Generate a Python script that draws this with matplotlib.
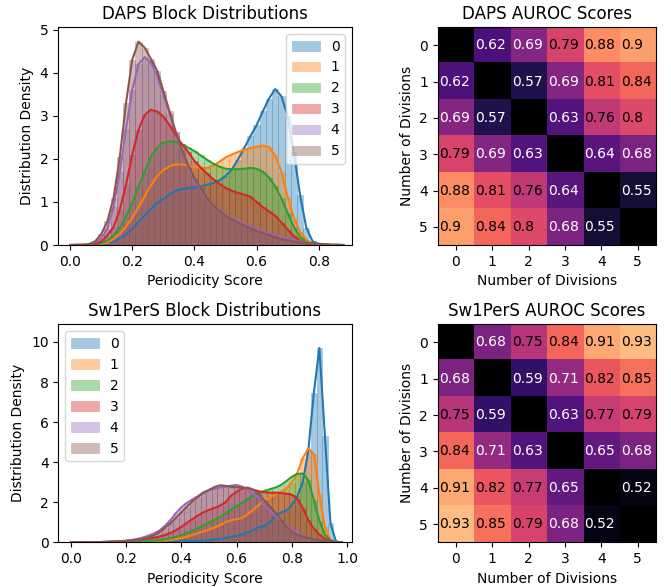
import matplotlib
matplotlib.use("Agg")
import matplotlib.pyplot as plt
import numpy as np

divisiones = ["0", "1", "2", "3", "4", "5"]
colores = ["#1f77b4", "#ff7f0e", "#2ca02c", "#d62728", "#9467bd", "#8c564b"]

# puntuaciones de periodicidad (centros de bin) y densidades
daps_x = [round(0.02 * i, 2) for i in range(45)]
daps_dens = {
    "0": [0, 0, 0, 0, 0.01, 0.02, 0.05, 0.09, 0.15, 0.25, 0.37, 0.53, 0.68, 0.83, 0.97,
          1.07, 1.18, 1.26, 1.30, 1.32, 1.34, 1.36, 1.40, 1.44, 1.50, 1.60, 1.75, 1.98, 2.25, 2.52,
          2.78, 3.10, 3.40, 3.62, 3.45, 3.00, 2.15, 1.15, 0.40, 0.09, 0.02, 0.01, 0, 0, 0],
    "1": [0, 0, 0, 0, 0.01, 0.02, 0.06, 0.14, 0.26, 0.43, 0.63, 0.88, 1.13, 1.38, 1.60,
          1.74, 1.83, 1.87, 1.87, 1.84, 1.80, 1.79, 1.79, 1.84, 1.93, 2.03, 2.10, 2.16, 2.21, 2.25,
          2.28, 2.31, 2.27, 2.08, 1.70, 1.12, 0.62, 0.30, 0.12, 0.04, 0.01, 0, 0, 0, 0],
    "2": [0, 0, 0, 0, 0.01, 0.04, 0.10, 0.22, 0.40, 0.66, 0.97, 1.36, 1.70, 2.05, 2.25,
          2.38, 2.41, 2.40, 2.34, 2.26, 2.18, 2.08, 1.98, 1.89, 1.82, 1.77, 1.76, 1.76, 1.77, 1.79,
          1.77, 1.70, 1.57, 1.36, 1.08, 0.74, 0.42, 0.19, 0.07, 0.02, 0.01, 0, 0, 0, 0],
    "3": [0, 0, 0, 0, 0.02, 0.08, 0.22, 0.42, 0.82, 1.40, 2.10, 2.67, 3.02, 3.14, 3.10,
          2.98, 2.78, 2.55, 2.34, 2.16, 1.95, 1.80, 1.66, 1.53, 1.42, 1.33, 1.26, 1.21, 1.17, 1.12,
          1.00, 0.88, 0.78, 0.68, 0.52, 0.36, 0.20, 0.10, 0.04, 0.02, 0.01, 0, 0, 0, 0],
    "4": [0, 0, 0, 0.01, 0.06, 0.15, 0.38, 0.88, 1.70, 2.70, 3.60, 4.20, 4.36, 4.24, 3.92,
          3.48, 3.05, 2.62, 2.20, 1.80, 1.48, 1.28, 1.08, 0.93, 0.81, 0.71, 0.63, 0.56, 0.49, 0.43,
          0.37, 0.32, 0.27, 0.23, 0.19, 0.15, 0.11, 0.08, 0.05, 0.03, 0.02, 0.01, 0, 0, 0],
    "5": [0, 0.01, 0.01, 0.02, 0.08, 0.25, 0.55, 1.10, 2.05, 3.30, 4.30, 4.72, 4.58, 4.32, 4.05,
          3.58, 3.10, 2.62, 2.20, 1.85, 1.55, 1.32, 1.10, 0.93, 0.80, 0.68, 0.60, 0.52, 0.45, 0.39,
          0.33, 0.28, 0.23, 0.18, 0.14, 0.11, 0.08, 0.06, 0.05, 0.04, 0.03, 0.02, 0.01, 0.01, 0],
}

sw_x = [round(0.02 * i, 2) for i in range(50)]
sw_dens = {
    "0": [0, 0, 0, 0, 0, 0, 0, 0, 0, 0, 0, 0, 0, 0, 0,
          0.01, 0.01, 0.02, 0.02, 0.03, 0.04, 0.05, 0.06, 0.08, 0.09, 0.11, 0.14, 0.18, 0.22, 0.28,
          0.33, 0.40, 0.50, 0.60, 0.75, 0.82, 1.00, 1.30, 1.48, 1.58, 1.85, 2.30, 3.00, 4.60, 7.47,
          9.70, 5.30, 0.95, 0.05, 0],
    "1": [0, 0, 0, 0, 0.01, 0.01, 0.01, 0.01, 0.01, 0.02, 0.02, 0.02, 0.03, 0.03, 0.04,
          0.05, 0.07, 0.09, 0.12, 0.16, 0.21, 0.28, 0.36, 0.45, 0.54, 0.64, 0.74, 0.86, 1.00, 1.10,
          1.15, 1.22, 1.40, 1.62, 1.86, 2.06, 2.24, 2.38, 2.52, 2.68, 2.98, 3.45, 4.20, 4.68, 4.40,
          2.40, 0.75, 0.12, 0.02, 0],
    "2": [0, 0, 0, 0, 0.01, 0.01, 0.01, 0.01, 0.02, 0.02, 0.03, 0.03, 0.04, 0.05, 0.06,
          0.08, 0.11, 0.15, 0.20, 0.27, 0.36, 0.47, 0.59, 0.71, 0.85, 0.99, 1.12, 1.27, 1.45, 1.63,
          1.80, 1.98, 2.16, 2.32, 2.45, 2.56, 2.65, 2.73, 2.85, 3.05, 3.27, 3.42, 3.43, 3.10, 2.10,
          1.08, 0.38, 0.10, 0.02, 0],
    "3": [0, 0, 0, 0, 0.01, 0.01, 0.02, 0.03, 0.04, 0.05, 0.07, 0.09, 0.12, 0.15, 0.19,
          0.23, 0.28, 0.36, 0.46, 0.60, 0.77, 0.97, 1.16, 1.34, 1.50, 1.62, 1.72, 1.83, 2.00, 2.32,
          2.52, 2.68, 2.73, 2.63, 2.55, 2.50, 2.48, 2.48, 2.46, 2.43, 2.38, 2.18, 1.70, 1.10, 0.68,
          0.38, 0.18, 0.06, 0.01, 0],
    "4": [0, 0, 0, 0, 0.01, 0.01, 0.02, 0.03, 0.04, 0.06, 0.08, 0.12, 0.17, 0.24, 0.33,
          0.44, 0.58, 0.82, 1.10, 1.45, 1.75, 1.97, 2.14, 2.30, 2.50, 2.60, 2.67, 2.73, 2.78, 2.83,
          2.86, 2.78, 2.62, 2.45, 2.20, 1.88, 1.58, 1.32, 1.08, 0.85, 0.66, 0.48, 0.35, 0.23, 0.13,
          0.07, 0.04, 0.02, 0.01, 0],
    "5": [0, 0, 0, 0, 0.01, 0.01, 0.02, 0.03, 0.04, 0.05, 0.07, 0.10, 0.13, 0.18, 0.25,
          0.34, 0.50, 0.72, 0.95, 1.22, 1.50, 1.78, 2.05, 2.28, 2.47, 2.62, 2.76, 2.85, 2.82, 2.77,
          2.75, 2.73, 2.71, 2.62, 2.40, 2.10, 1.80, 1.50, 1.13, 0.78, 0.52, 0.38, 0.29, 0.21, 0.14,
          0.09, 0.05, 0.03, 0.01, 0],
}

# AUROC entre pares de divisiones (diagonal = 0.5)
daps_auroc = [
    [0.50, 0.62, 0.69, 0.79, 0.88, 0.90],
    [0.62, 0.50, 0.57, 0.69, 0.81, 0.84],
    [0.69, 0.57, 0.50, 0.63, 0.76, 0.80],
    [0.79, 0.69, 0.63, 0.50, 0.64, 0.68],
    [0.88, 0.81, 0.76, 0.64, 0.50, 0.55],
    [0.90, 0.84, 0.80, 0.68, 0.55, 0.50],
]
sw_auroc = [
    [0.50, 0.68, 0.75, 0.84, 0.91, 0.93],
    [0.68, 0.50, 0.59, 0.71, 0.82, 0.85],
    [0.75, 0.59, 0.50, 0.63, 0.77, 0.79],
    [0.84, 0.71, 0.63, 0.50, 0.65, 0.68],
    [0.91, 0.82, 0.77, 0.65, 0.50, 0.52],
    [0.93, 0.85, 0.79, 0.68, 0.52, 0.50],
]


def grafico_bloques(ax, xs, dens, titulo, xlim, ylim, loc):
    for d, color in zip(divisiones, colores):
        # borde fino del mismo color para las rayas verticales del histograma
        ax.bar(xs, dens[d], width=0.02, color=color, alpha=0.4,
               edgecolor=color, linewidth=0.4, label=d)
        ax.plot(xs, dens[d], color=color, lw=1.5)
    ax.set_xlim(*xlim)
    ax.set_ylim(*ylim)
    ax.set_title(titulo)
    ax.set_xlabel("Periodicity Score")
    ax.set_ylabel("Distribution Density")
    ax.legend(loc=loc)


def grafico_auroc(ax, matriz, titulo):
    m = np.array(matriz)
    ax.imshow(m, cmap="magma", vmin=0.5, vmax=1.0)
    for i in range(m.shape[0]):
        for j in range(m.shape[1]):
            if i == j:
                continue
            v = m[i, j]
            color = "white" if v < 0.73 else "black"
            ax.text(j - 0.46, i, f"{v:g}", ha="left", va="center", color=color, fontsize=10)
    ax.set_xticks(range(len(divisiones)))
    ax.set_yticks(range(len(divisiones)))
    ax.set_xticklabels(divisiones)
    ax.set_yticklabels(divisiones)
    ax.set_title(titulo)
    ax.set_xlabel("Number of Divisions")
    ax.set_ylabel("Number of Divisions")


fig = plt.figure(figsize=(6.71, 5.87), dpi=100)
ax1 = fig.add_axes([0.0864, 0.5826, 0.4382, 0.3714])
ax2 = fig.add_axes([0.6523, 0.5826, 0.3249, 0.3714])
ax3 = fig.add_axes([0.0869, 0.0761, 0.4372, 0.3714])
ax4 = fig.add_axes([0.6523, 0.0761, 0.3249, 0.3714])

grafico_bloques(ax1, daps_x, daps_dens, "DAPS Block Distributions", (-0.039, 0.907), (0, 5.06), "upper right")
grafico_auroc(ax2, daps_auroc, "DAPS AUROC Scores")
grafico_bloques(ax3, sw_x, sw_dens, "Sw1PerS Block Distributions", (-0.046, 1.017), (0, 10.88), "upper left")
grafico_auroc(ax4, sw_auroc, "Sw1PerS AUROC Scores")

fig.savefig("out.png", dpi=100)
